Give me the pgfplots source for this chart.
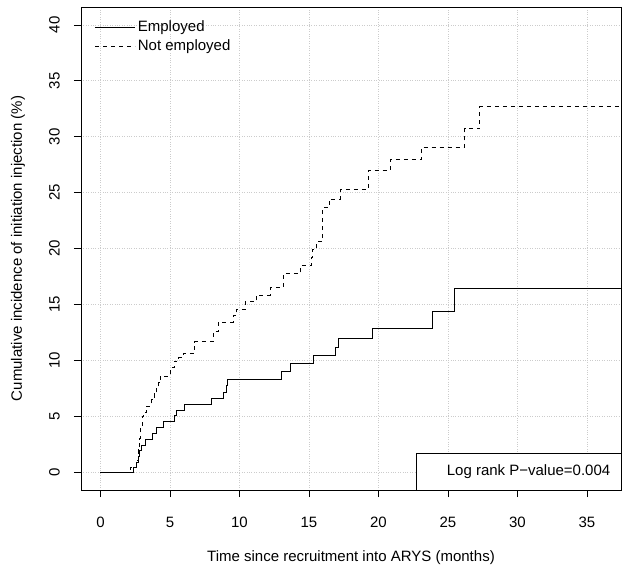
\documentclass[border=0pt]{standalone}
\usepackage{pgfplots}
\pgfplotsset{compat=1.18}
\usepackage{fontspec}
\setmainfont{Liberation Sans}
\begin{document}
\fontsize{15}{18}\selectfont
\begin{tikzpicture}
\begin{axis}[
  scale only axis, width=540pt, height=483pt,
  xmin=-1.4, xmax=37.45, ymin=-1.6, ymax=41.6,
  xtick={0,5,...,35}, ytick={0,5,...,40},
  xtick pos=bottom, ytick pos=left,
  tick align=outside, major tick length=7pt,
  tick style={black, line width=0.6pt},
  axis line style={line width=0.8pt},
  grid=major, grid style={dotted, gray!40, line width=0.6pt},
  /pgf/number format/assume math mode=true,
  ticklabel style={font=\fontsize{15}{18}\selectfont},
  xticklabel style={yshift=-15pt},
  yticklabel style={rotate=90, anchor=south, yshift=9pt},
  xlabel={Time since recruitment into ARYS (months)},
  ylabel={Cumulative incidence of initiation injection (\%)},
  xlabel style={yshift=-13pt},
  ylabel style={yshift=14pt},
  label style={font=\fontsize{15}{18}\selectfont},
  legend style={at={(0.02,0.98)}, anchor=north west, draw=none, fill=none,
    font=\fontsize{15}{18}\selectfont, row sep=1.5pt},
  legend cell align=left,
  legend image code/.code={\draw[#1] (0pt,0pt) -- (28pt,0pt); \path (0pt,0pt) -- (40pt,0pt);},
]
\addplot[const plot, black, line width=0.9pt] coordinates {
(0,0) (2.4,0.42) (2.62,0.9) (2.7,1.4) (2.82,1.9) (2.95,2.4) (3.25,2.95)
(3.73,3.45) (4.04,3.99) (4.52,4.5) (5.31,5.03) (5.48,5.54) (6.03,6.04)
(8.0,6.6) (8.84,7.1) (9.03,7.77) (9.17,8.3) (12.99,8.96) (13.68,9.7)
(15.31,10.39) (16.94,11.13) (17.11,11.94) (19.58,12.86) (23.9,14.35)
(25.5,16.4) (37.45,16.4)};
\addlegendentry{Employed}
\addplot[const plot, black, line width=0.9pt, dash pattern=on 4pt off 4pt] coordinates {
(0,0) (2.15,0.42) (2.6,1.0) (2.7,2.0) (2.8,3.0) (2.9,4.0) (3.0,5.0) (3.1,5.33)
(3.3,5.9) (3.68,6.5) (3.85,7.0) (4.04,7.5) (4.2,8.0) (4.3,8.6) (5.0,9.35)
(5.29,9.94) (5.6,10.24) (5.96,10.6) (6.73,11.67) (8.12,12.6) (8.48,13.42)
(9.56,14.0) (9.8,14.55) (10.4,15.24) (11.24,15.83) (12.24,16.49) (13.15,17.77)
(14.4,18.48) (15.2,19.2) (15.26,19.9) (15.55,20.6) (15.98,23.63) (16.46,24.43)
(17.23,25.27) (19.27,27.0) (20.83,27.95) (23.1,29.05) (26.2,30.7) (27.3,32.7)
(37.45,32.7)};
\addlegendentry{Not employed}
\draw[black, line width=0.8pt, fill=white] (axis cs:22.7,-1.6) rectangle (axis cs:37.45,1.7);
\node[font=\fontsize{15}{18}\selectfont] at (axis cs:30.8,0.05) {Log rank P\textminus value=0.004};
\end{axis}
\pgfresetboundingbox
\path[use as bounding box] ([shift={(-81pt,-79pt)}]current axis.south west) rectangle ([shift={(10pt,7pt)}]current axis.north east);
\end{tikzpicture}
\end{document}
